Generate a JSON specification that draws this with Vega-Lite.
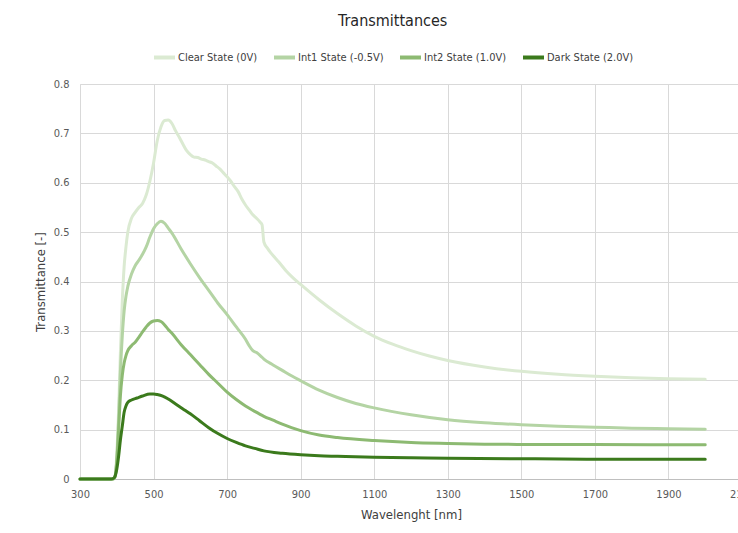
{
  "$schema": "https://vega.github.io/schema/vega-lite/v6.json",
  "autosize": "none",
  "width": 662,
  "height": 395,
  "padding": {"left": 80, "top": 84, "right": 0, "bottom": 54},
  "background": "white",
  "title": {"text": "Transmittances", "fontSize": 16, "font": "Liberation Sans Narrow, DejaVu Sans Condensed, Liberation Sans, sans-serif", "fontWeight": "normal", "color": "#262626", "anchor": "start", "frame": "group", "dx": 258, "offset": 16},
  "config": {
    "view": {"stroke": null},
    "font": "Liberation Sans Narrow, DejaVu Sans Condensed, Liberation Sans, sans-serif"
  },
  "data": {"values": [
    {"s":"Clear State (0V)","nm":300,"t":0},{"s":"Clear State (0V)","nm":390,"t":0},{"s":"Clear State (0V)","nm":395,"t":0.005},{"s":"Clear State (0V)","nm":400,"t":0.05},{"s":"Clear State (0V)","nm":405,"t":0.14},{"s":"Clear State (0V)","nm":410,"t":0.26},{"s":"Clear State (0V)","nm":415,"t":0.36},{"s":"Clear State (0V)","nm":420,"t":0.43},{"s":"Clear State (0V)","nm":425,"t":0.47},{"s":"Clear State (0V)","nm":430,"t":0.5},{"s":"Clear State (0V)","nm":440,"t":0.528},{"s":"Clear State (0V)","nm":450,"t":0.54},{"s":"Clear State (0V)","nm":460,"t":0.55},{"s":"Clear State (0V)","nm":470,"t":0.558},{"s":"Clear State (0V)","nm":480,"t":0.575},{"s":"Clear State (0V)","nm":490,"t":0.603},{"s":"Clear State (0V)","nm":500,"t":0.64},{"s":"Clear State (0V)","nm":510,"t":0.685},{"s":"Clear State (0V)","nm":520,"t":0.713},{"s":"Clear State (0V)","nm":530,"t":0.726},{"s":"Clear State (0V)","nm":540,"t":0.727},{"s":"Clear State (0V)","nm":550,"t":0.72},{"s":"Clear State (0V)","nm":560,"t":0.705},{"s":"Clear State (0V)","nm":570,"t":0.692},{"s":"Clear State (0V)","nm":580,"t":0.678},{"s":"Clear State (0V)","nm":590,"t":0.665},{"s":"Clear State (0V)","nm":600,"t":0.657},{"s":"Clear State (0V)","nm":610,"t":0.652},{"s":"Clear State (0V)","nm":620,"t":0.651},{"s":"Clear State (0V)","nm":630,"t":0.648},{"s":"Clear State (0V)","nm":640,"t":0.646},{"s":"Clear State (0V)","nm":650,"t":0.643},{"s":"Clear State (0V)","nm":660,"t":0.64},{"s":"Clear State (0V)","nm":670,"t":0.634},{"s":"Clear State (0V)","nm":680,"t":0.628},{"s":"Clear State (0V)","nm":690,"t":0.62},{"s":"Clear State (0V)","nm":700,"t":0.612},{"s":"Clear State (0V)","nm":710,"t":0.603},{"s":"Clear State (0V)","nm":720,"t":0.592},{"s":"Clear State (0V)","nm":730,"t":0.582},{"s":"Clear State (0V)","nm":740,"t":0.567},{"s":"Clear State (0V)","nm":750,"t":0.555},{"s":"Clear State (0V)","nm":760,"t":0.545},{"s":"Clear State (0V)","nm":770,"t":0.535},{"s":"Clear State (0V)","nm":780,"t":0.528},{"s":"Clear State (0V)","nm":790,"t":0.52},{"s":"Clear State (0V)","nm":795,"t":0.515},{"s":"Clear State (0V)","nm":800,"t":0.48},{"s":"Clear State (0V)","nm":810,"t":0.467},{"s":"Clear State (0V)","nm":820,"t":0.457},{"s":"Clear State (0V)","nm":840,"t":0.44},{"s":"Clear State (0V)","nm":860,"t":0.422},{"s":"Clear State (0V)","nm":880,"t":0.407},{"s":"Clear State (0V)","nm":900,"t":0.394},{"s":"Clear State (0V)","nm":950,"t":0.363},{"s":"Clear State (0V)","nm":1000,"t":0.335},{"s":"Clear State (0V)","nm":1050,"t":0.31},{"s":"Clear State (0V)","nm":1100,"t":0.289},{"s":"Clear State (0V)","nm":1150,"t":0.273},{"s":"Clear State (0V)","nm":1200,"t":0.26},{"s":"Clear State (0V)","nm":1250,"t":0.249},{"s":"Clear State (0V)","nm":1300,"t":0.24},{"s":"Clear State (0V)","nm":1400,"t":0.227},{"s":"Clear State (0V)","nm":1500,"t":0.218},{"s":"Clear State (0V)","nm":1600,"t":0.212},{"s":"Clear State (0V)","nm":1700,"t":0.208},{"s":"Clear State (0V)","nm":1800,"t":0.205},{"s":"Clear State (0V)","nm":1900,"t":0.203},{"s":"Clear State (0V)","nm":2000,"t":0.202},

    {"s":"Int1 State (-0.5V)","nm":300,"t":0},{"s":"Int1 State (-0.5V)","nm":390,"t":0},{"s":"Int1 State (-0.5V)","nm":395,"t":0.005},{"s":"Int1 State (-0.5V)","nm":400,"t":0.04},{"s":"Int1 State (-0.5V)","nm":405,"t":0.12},{"s":"Int1 State (-0.5V)","nm":410,"t":0.22},{"s":"Int1 State (-0.5V)","nm":415,"t":0.29},{"s":"Int1 State (-0.5V)","nm":420,"t":0.34},{"s":"Int1 State (-0.5V)","nm":425,"t":0.37},{"s":"Int1 State (-0.5V)","nm":430,"t":0.39},{"s":"Int1 State (-0.5V)","nm":440,"t":0.415},{"s":"Int1 State (-0.5V)","nm":450,"t":0.432},{"s":"Int1 State (-0.5V)","nm":460,"t":0.443},{"s":"Int1 State (-0.5V)","nm":470,"t":0.455},{"s":"Int1 State (-0.5V)","nm":480,"t":0.47},{"s":"Int1 State (-0.5V)","nm":490,"t":0.49},{"s":"Int1 State (-0.5V)","nm":500,"t":0.507},{"s":"Int1 State (-0.5V)","nm":510,"t":0.517},{"s":"Int1 State (-0.5V)","nm":520,"t":0.522},{"s":"Int1 State (-0.5V)","nm":530,"t":0.518},{"s":"Int1 State (-0.5V)","nm":540,"t":0.508},{"s":"Int1 State (-0.5V)","nm":550,"t":0.498},{"s":"Int1 State (-0.5V)","nm":575,"t":0.466},{"s":"Int1 State (-0.5V)","nm":600,"t":0.436},{"s":"Int1 State (-0.5V)","nm":625,"t":0.408},{"s":"Int1 State (-0.5V)","nm":650,"t":0.382},{"s":"Int1 State (-0.5V)","nm":675,"t":0.356},{"s":"Int1 State (-0.5V)","nm":700,"t":0.333},{"s":"Int1 State (-0.5V)","nm":725,"t":0.308},{"s":"Int1 State (-0.5V)","nm":750,"t":0.283},{"s":"Int1 State (-0.5V)","nm":760,"t":0.27},{"s":"Int1 State (-0.5V)","nm":770,"t":0.26},{"s":"Int1 State (-0.5V)","nm":780,"t":0.256},{"s":"Int1 State (-0.5V)","nm":790,"t":0.25},{"s":"Int1 State (-0.5V)","nm":800,"t":0.243},{"s":"Int1 State (-0.5V)","nm":825,"t":0.231},{"s":"Int1 State (-0.5V)","nm":850,"t":0.22},{"s":"Int1 State (-0.5V)","nm":875,"t":0.209},{"s":"Int1 State (-0.5V)","nm":900,"t":0.199},{"s":"Int1 State (-0.5V)","nm":950,"t":0.18},{"s":"Int1 State (-0.5V)","nm":1000,"t":0.165},{"s":"Int1 State (-0.5V)","nm":1050,"t":0.153},{"s":"Int1 State (-0.5V)","nm":1100,"t":0.144},{"s":"Int1 State (-0.5V)","nm":1200,"t":0.13},{"s":"Int1 State (-0.5V)","nm":1300,"t":0.12},{"s":"Int1 State (-0.5V)","nm":1400,"t":0.114},{"s":"Int1 State (-0.5V)","nm":1500,"t":0.11},{"s":"Int1 State (-0.5V)","nm":1600,"t":0.107},{"s":"Int1 State (-0.5V)","nm":1700,"t":0.105},{"s":"Int1 State (-0.5V)","nm":1800,"t":0.103},{"s":"Int1 State (-0.5V)","nm":1900,"t":0.102},{"s":"Int1 State (-0.5V)","nm":2000,"t":0.101},

    {"s":"Int2 State (1.0V)","nm":300,"t":0},{"s":"Int2 State (1.0V)","nm":390,"t":0},{"s":"Int2 State (1.0V)","nm":395,"t":0.004},{"s":"Int2 State (1.0V)","nm":400,"t":0.035},{"s":"Int2 State (1.0V)","nm":405,"t":0.1},{"s":"Int2 State (1.0V)","nm":410,"t":0.17},{"s":"Int2 State (1.0V)","nm":415,"t":0.21},{"s":"Int2 State (1.0V)","nm":420,"t":0.235},{"s":"Int2 State (1.0V)","nm":425,"t":0.25},{"s":"Int2 State (1.0V)","nm":430,"t":0.26},{"s":"Int2 State (1.0V)","nm":440,"t":0.27},{"s":"Int2 State (1.0V)","nm":450,"t":0.277},{"s":"Int2 State (1.0V)","nm":460,"t":0.287},{"s":"Int2 State (1.0V)","nm":470,"t":0.298},{"s":"Int2 State (1.0V)","nm":480,"t":0.308},{"s":"Int2 State (1.0V)","nm":490,"t":0.316},{"s":"Int2 State (1.0V)","nm":500,"t":0.32},{"s":"Int2 State (1.0V)","nm":510,"t":0.321},{"s":"Int2 State (1.0V)","nm":520,"t":0.319},{"s":"Int2 State (1.0V)","nm":530,"t":0.312},{"s":"Int2 State (1.0V)","nm":540,"t":0.303},{"s":"Int2 State (1.0V)","nm":550,"t":0.295},{"s":"Int2 State (1.0V)","nm":575,"t":0.272},{"s":"Int2 State (1.0V)","nm":600,"t":0.252},{"s":"Int2 State (1.0V)","nm":625,"t":0.232},{"s":"Int2 State (1.0V)","nm":650,"t":0.212},{"s":"Int2 State (1.0V)","nm":675,"t":0.194},{"s":"Int2 State (1.0V)","nm":700,"t":0.176},{"s":"Int2 State (1.0V)","nm":725,"t":0.161},{"s":"Int2 State (1.0V)","nm":750,"t":0.148},{"s":"Int2 State (1.0V)","nm":775,"t":0.137},{"s":"Int2 State (1.0V)","nm":800,"t":0.127},{"s":"Int2 State (1.0V)","nm":825,"t":0.119},{"s":"Int2 State (1.0V)","nm":850,"t":0.111},{"s":"Int2 State (1.0V)","nm":875,"t":0.104},{"s":"Int2 State (1.0V)","nm":900,"t":0.098},{"s":"Int2 State (1.0V)","nm":950,"t":0.089},{"s":"Int2 State (1.0V)","nm":1000,"t":0.084},{"s":"Int2 State (1.0V)","nm":1100,"t":0.078},{"s":"Int2 State (1.0V)","nm":1200,"t":0.074},{"s":"Int2 State (1.0V)","nm":1300,"t":0.072},{"s":"Int2 State (1.0V)","nm":1400,"t":0.0705},{"s":"Int2 State (1.0V)","nm":1500,"t":0.07},{"s":"Int2 State (1.0V)","nm":1700,"t":0.0697},{"s":"Int2 State (1.0V)","nm":2000,"t":0.0695},

    {"s":"Dark State (2.0V)","nm":300,"t":0},{"s":"Dark State (2.0V)","nm":385,"t":0},{"s":"Dark State (2.0V)","nm":390,"t":0.001},{"s":"Dark State (2.0V)","nm":395,"t":0.005},{"s":"Dark State (2.0V)","nm":400,"t":0.02},{"s":"Dark State (2.0V)","nm":405,"t":0.046},{"s":"Dark State (2.0V)","nm":410,"t":0.08},{"s":"Dark State (2.0V)","nm":415,"t":0.107},{"s":"Dark State (2.0V)","nm":420,"t":0.135},{"s":"Dark State (2.0V)","nm":425,"t":0.148},{"s":"Dark State (2.0V)","nm":430,"t":0.155},{"s":"Dark State (2.0V)","nm":440,"t":0.16},{"s":"Dark State (2.0V)","nm":455,"t":0.164},{"s":"Dark State (2.0V)","nm":470,"t":0.168},{"s":"Dark State (2.0V)","nm":490,"t":0.172},{"s":"Dark State (2.0V)","nm":500,"t":0.172},{"s":"Dark State (2.0V)","nm":510,"t":0.171},{"s":"Dark State (2.0V)","nm":525,"t":0.168},{"s":"Dark State (2.0V)","nm":540,"t":0.162},{"s":"Dark State (2.0V)","nm":560,"t":0.152},{"s":"Dark State (2.0V)","nm":580,"t":0.142},{"s":"Dark State (2.0V)","nm":600,"t":0.132},{"s":"Dark State (2.0V)","nm":625,"t":0.118},{"s":"Dark State (2.0V)","nm":650,"t":0.104},{"s":"Dark State (2.0V)","nm":675,"t":0.092},{"s":"Dark State (2.0V)","nm":700,"t":0.082},{"s":"Dark State (2.0V)","nm":725,"t":0.074},{"s":"Dark State (2.0V)","nm":750,"t":0.067},{"s":"Dark State (2.0V)","nm":775,"t":0.062},{"s":"Dark State (2.0V)","nm":800,"t":0.057},{"s":"Dark State (2.0V)","nm":850,"t":0.052},{"s":"Dark State (2.0V)","nm":900,"t":0.049},{"s":"Dark State (2.0V)","nm":950,"t":0.047},{"s":"Dark State (2.0V)","nm":1000,"t":0.046},{"s":"Dark State (2.0V)","nm":1100,"t":0.044},{"s":"Dark State (2.0V)","nm":1200,"t":0.043},{"s":"Dark State (2.0V)","nm":1300,"t":0.042},{"s":"Dark State (2.0V)","nm":1500,"t":0.041},{"s":"Dark State (2.0V)","nm":1700,"t":0.04},{"s":"Dark State (2.0V)","nm":2000,"t":0.04}
  ]},
  "mark": {"type": "line", "strokeWidth": 3, "strokeCap": "round", "strokeJoin": "round", "interpolate": "monotone"},
  "encoding": {
    "x": {
      "field": "nm", "type": "quantitative",
      "scale": {"domain": [300, 2100], "nice": false, "zero": false},
      "axis": {
        "title": "Wavelenght [nm]", "values": [300,500,700,900,1100,1300,1500,1700,1900,2100], "format": "d",
        "grid": true, "gridColor": "#d9d9d9", "gridWidth": 1,
        "domainColor": "#bfbfbf", "domainWidth": 1, "ticks": false,
        "labelFontSize": 11, "labelColor": "#595959", "labelPadding": 9, "labelFlush": false,
        "titleFontSize": 13, "titleFontWeight": "normal", "titleColor": "#404040", "titlePadding": 9
      }
    },
    "y": {
      "field": "t", "type": "quantitative",
      "scale": {"domain": [0, 0.8], "nice": false},
      "axis": {
        "title": "Transmittance [-]", "values": [0,0.1,0.2,0.3,0.4,0.5,0.6,0.7,0.8],
        "labelExpr": "datum.value == 0 ? '0' : format(datum.value, '.1f')",
        "grid": true, "gridColor": "#d9d9d9", "gridWidth": 1,
        "domainColor": "#d9d9d9", "domainWidth": 1, "ticks": false,
        "labelFontSize": 11, "labelColor": "#595959", "labelPadding": 11,
        "titleFontSize": 13, "titleFontWeight": "normal", "titleColor": "#404040", "titlePadding": 6
      }
    },
    "color": {
      "field": "s", "type": "nominal",
      "scale": {
        "domain": ["Clear State (0V)", "Int1 State (-0.5V)", "Int2 State (1.0V)", "Dark State (2.0V)"],
        "range": ["#dbead2", "#b4d4a4", "#8dba72", "#3b7a1c"]
      },
      "legend": {
        "title": null, "orient": "none", "direction": "horizontal", "legendX": 72, "legendY": -39,
        "columns": 4, "gridAlign": "none", "columnPadding": 8,
        "symbolType": "stroke", "symbolSize": 441, "symbolStrokeWidth": 4,
        "labelFontSize": 11, "labelColor": "#404040", "labelOffset": 1
      }
    }
  }
}
